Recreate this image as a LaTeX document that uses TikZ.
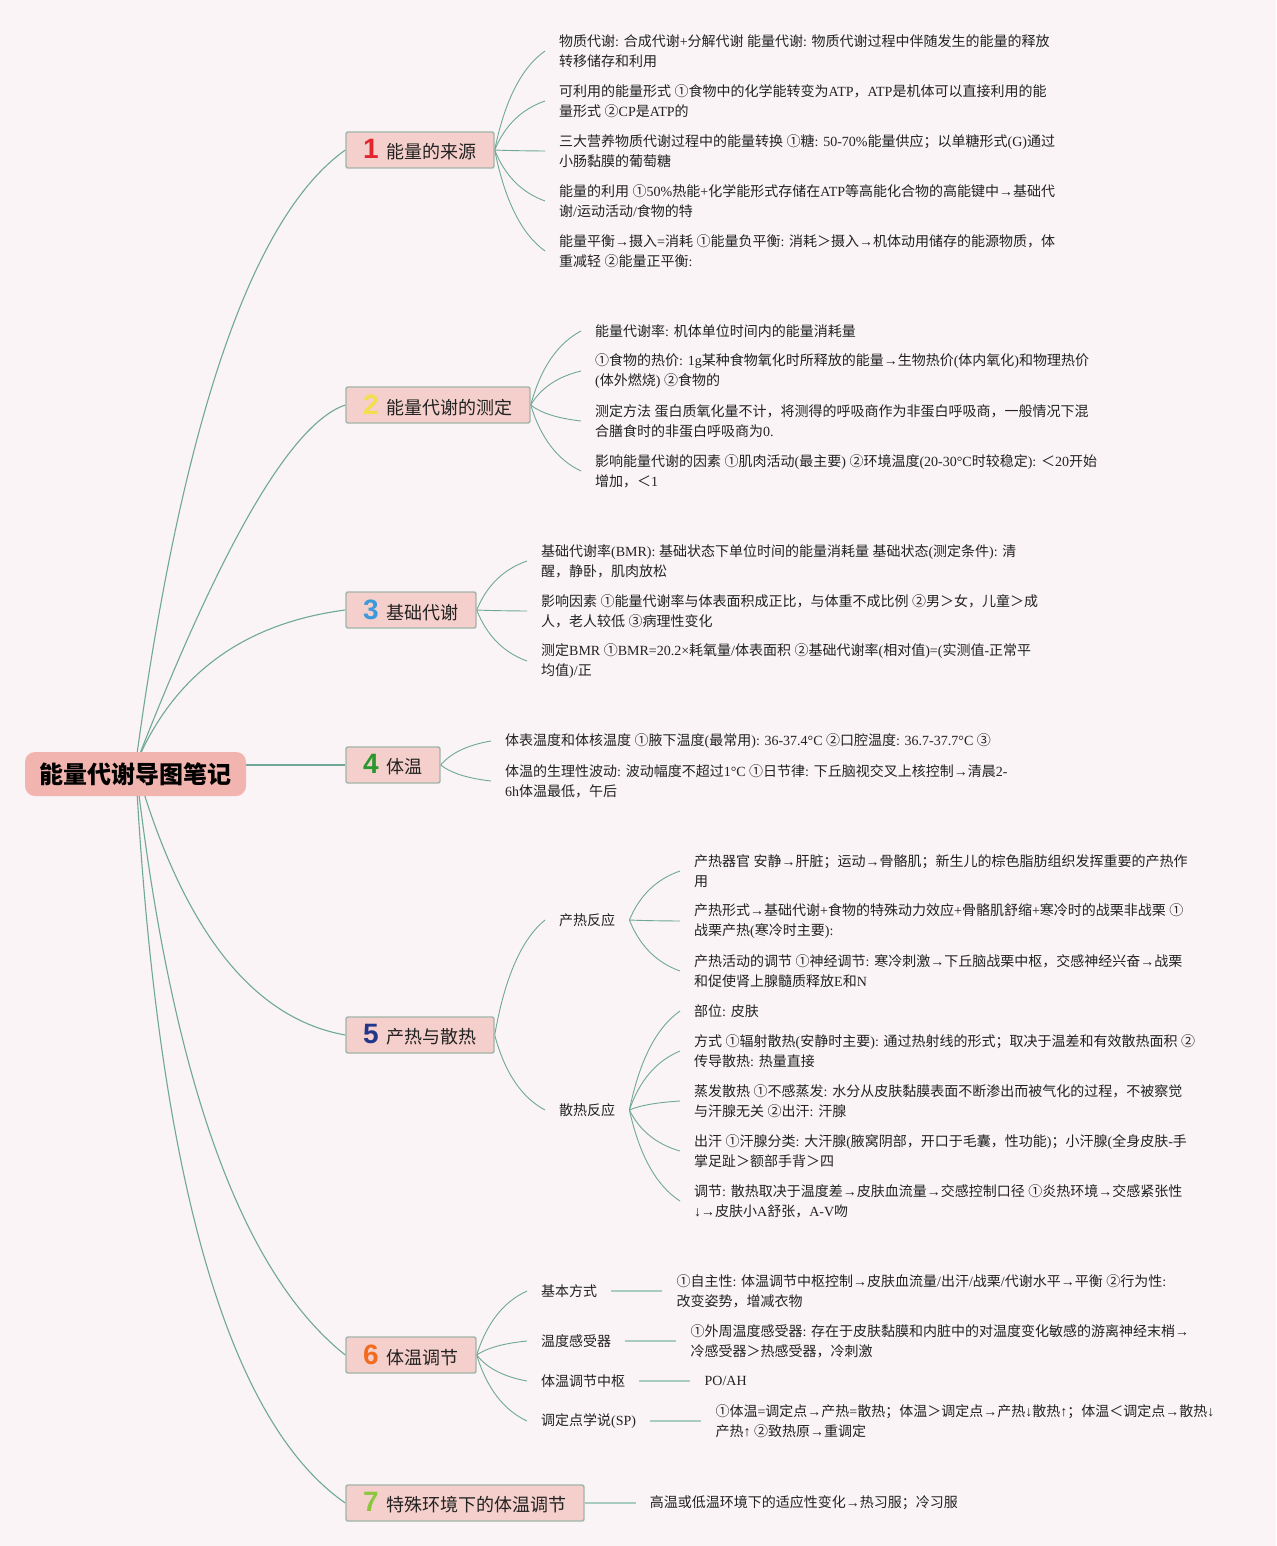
\documentclass[tikz,border=0pt]{standalone}
\usepackage{fontspec}
\setmainfont{Liberation Serif}
\newfontfamily\cjkfont{Noto Sans CJK SC}
\newfontfamily\numfont{Liberation Sans}
\usetikzlibrary{calc}
\pgfdeclarelayer{bgfill}
\pgfdeclarelayer{lines}
\pgfsetlayers{bgfill,lines,main}
\XeTeXinterchartokenstate=1
\newXeTeXintercharclass\mycjkclass
\makeatletter
\newcommand\setcjkrange[2]{%
  \count@=#1\relax
  \loop
    \XeTeXcharclass\count@=\mycjkclass
  \ifnum\count@<#2\relax
    \advance\count@\@ne
  \repeat}
\makeatother
\setcjkrange{"4E00}{"9FFF}
\setcjkrange{"3000}{"303F}
\setcjkrange{"FF00}{"FFEF}
\setcjkrange{"2460}{"2473}
\XeTeXinterchartoks 0 \mycjkclass = {\cjkfont}
\XeTeXinterchartoks 4095 \mycjkclass = {\cjkfont}
\XeTeXinterchartoks \mycjkclass 0 = {\rmfamily}
\XeTeXinterchartoks \mycjkclass 4095 = {\rmfamily}
\definecolor{bgc}{HTML}{FAF4F6}
\definecolor{linec}{HTML}{6FA898}
\definecolor{stubc}{HTML}{A9CCBF}
\definecolor{boxfill}{HTML}{F5CFCB}
\definecolor{boxline}{HTML}{9EB5A9}
\definecolor{rootfill}{HTML}{F2B4AF}
\definecolor{txt}{HTML}{222222}
\definecolor{n1}{HTML}{E3262E}
\definecolor{n2}{HTML}{F2DF4B}
\definecolor{n3}{HTML}{3A9ADB}
\definecolor{n4}{HTML}{2A982F}
\definecolor{n5}{HTML}{22368A}
\definecolor{n6}{HTML}{F26B1D}
\definecolor{n7}{HTML}{8CC63E}
\newcommand\bnum[2]{{\numfont\bfseries\fontsize{28}{28}\selectfont\color{#1}#2}\hspace{8pt}}
\newcommand\rootcurve[2]{\draw[rootline] (rc) .. controls ($(rc)!0.667!(#2)$) and ($(#1.west)!0.667!(#2)$) .. (#1.west);}
\tikzset{
  conn/.style={draw=linec, line width=0.9pt},
  rootline/.style={draw=linec, line width=1.1pt},
  stub/.style={draw=stubc, line width=1.8pt},
  branch/.style={draw=boxline, line width=1.4pt, fill=boxfill, rounded corners=2pt,
    minimum height=36pt, inner xsep=0pt, inner ysep=0pt,
    font=\fontsize{18}{22}\selectfont, text=txt},
  rootbox/.style={fill=rootfill, rounded corners=10pt, minimum width=221pt,
    minimum height=44pt, inner sep=0pt, font=\fontsize{24}{28}\selectfont\bfseries, text=black},
  leaf/.style={anchor=west, inner xsep=14pt, inner ysep=1pt, align=left,
    font=\fontsize{14}{20}\selectfont, text=txt},
  fan/.style={to path={let \p1=(\tikztostart), \p2=(\tikztotarget) in
    .. controls ({\x1+0.2*(\x2-\x1)},{\y1+0.5*(\y2-\y1)})
    and ({\x2-0.4667*(\x2-\x1)},{\y2+0.1667*(\y1-\y2)}) .. (\tikztotarget)}}
}
\begin{document}
\begin{tikzpicture}[x=1pt,y=-1pt]
\useasboundingbox (0,0) rectangle (1276,1546);
\begin{pgfonlayer}{bgfill}
\fill[bgc] (0,0) rectangle (1276,1546);
\end{pgfonlayer}

% root and branches
\node[rootbox] (r) at (135.5,774) {能量代谢导图笔记};
\node[branch, minimum width=148pt] (b1) at (420,150) {\bnum{n1}{1}能量的来源};
\node[branch, minimum width=184pt] (b2) at (438,405) {\bnum{n2}{2}能量代谢的测定};
\node[branch, minimum width=130pt] (b3) at (411,610) {\bnum{n3}{3}基础代谢};
\node[branch, minimum width=94pt] (b4) at (393,765) {\bnum{n4}{4}体温};
\node[branch, minimum width=148pt] (b5) at (420,1035) {\bnum{n5}{5}产热与散热};
\node[branch, minimum width=130pt] (b6) at (411,1355) {\bnum{n6}{6}体温调节};
\node[branch, minimum width=238pt] (b7) at (465,1503) {\bnum{n7}{7}特殊环境下的体温调节};
\coordinate (rc) at ([yshift=9pt]r.center);

% branch 1
\node[leaf] (l11) at (545,51) {物质代谢: 合成代谢+分解代谢 能量代谢: 物质代谢过程中伴随发生的能量的释放\\转移储存和利用};
\node[leaf] (l12) at (545,101) {可利用的能量形式 ①食物中的化学能转变为ATP，ATP是机体可以直接利用的能\\量形式 ②CP是ATP的};
\node[leaf] (l13) at (545,151) {三大营养物质代谢过程中的能量转换 ①糖: 50-70\%能量供应；以单糖形式(G)通过\\小肠黏膜的葡萄糖};
\node[leaf] (l14) at (545,201) {能量的利用 ①50\%热能+化学能形式存储在ATP等高能化合物的高能键中→基础代\\谢/运动活动/食物的特};
\node[leaf] (l15) at (545,251) {能量平衡→摄入=消耗 ①能量负平衡: 消耗＞摄入→机体动用储存的能源物质，体\\重减轻 ②能量正平衡:};

% branch 2
\node[leaf] (l21) at (581,331) {能量代谢率: 机体单位时间内的能量消耗量};
\node[leaf] (l22) at (581,371) {①食物的热价: 1g某种食物氧化时所释放的能量→生物热价(体内氧化)和物理热价\\(体外燃烧) ②食物的};
\node[leaf] (l23) at (581,421) {测定方法 蛋白质氧化量不计，将测得的呼吸商作为非蛋白呼吸商，一般情况下混\\合膳食时的非蛋白呼吸商为0.};
\node[leaf] (l24) at (581,471) {影响能量代谢的因素 ①肌肉活动(最主要) ②环境温度(20-30°C时较稳定): ＜20开始\\增加，＜1};

% branch 3
\node[leaf] (l31) at (527,561) {基础代谢率(BMR): 基础状态下单位时间的能量消耗量 基础状态(测定条件): 清\\醒，静卧，肌肉放松};
\node[leaf] (l32) at (527,611) {影响因素 ①能量代谢率与体表面积成正比，与体重不成比例 ②男＞女，儿童＞成\\人，老人较低 ③病理性变化};
\node[leaf] (l33) at (527,661) {测定BMR ①BMR=20.2×耗氧量/体表面积 ②基础代谢率(相对值)=(实测值-正常平\\均值)/正};

% branch 4
\node[leaf] (l41) at (491,741) {体表温度和体核温度 ①腋下温度(最常用): 36-37.4°C ②口腔温度: 36.7-37.7°C ③};
\node[leaf] (l42) at (491,781) {体温的生理性波动: 波动幅度不超过1°C ①日节律: 下丘脑视交叉上核控制→清晨2-\\6h体温最低，午后};

% branch 5
\node[leaf] (s51) at (545,920) {产热反应};
\node[leaf] (s52) at (545,1110) {散热反应};
\node[leaf] (l511) at (680,871) {产热器官 安静→肝脏；运动→骨骼肌；新生儿的棕色脂肪组织发挥重要的产热作\\用};
\node[leaf] (l512) at (680,921) {产热形式→基础代谢+食物的特殊动力效应+骨骼肌舒缩+寒冷时的战栗非战栗 ①\\战栗产热(寒冷时主要):};
\node[leaf] (l513) at (680,971) {产热活动的调节 ①神经调节: 寒冷刺激→下丘脑战栗中枢，交感神经兴奋→战栗\\和促使肾上腺髓质释放E和N};
\node[leaf] (l521) at (680,1011) {部位: 皮肤};
\node[leaf] (l522) at (680,1051) {方式 ①辐射散热(安静时主要): 通过热射线的形式；取决于温差和有效散热面积 ②\\传导散热: 热量直接};
\node[leaf] (l523) at (680,1101) {蒸发散热 ①不感蒸发: 水分从皮肤黏膜表面不断渗出而被气化的过程，不被察觉\\与汗腺无关 ②出汗: 汗腺};
\node[leaf] (l524) at (680,1151) {出汗 ①汗腺分类: 大汗腺(腋窝阴部，开口于毛囊，性功能)；小汗腺(全身皮肤-手\\掌足趾＞额部手背＞四};
\node[leaf] (l525) at (680,1201) {调节: 散热取决于温度差→皮肤血流量→交感控制口径 ①炎热环境→交感紧张性\\↓→皮肤小A舒张，A-V吻};

% branch 6
\node[leaf] (s61) at (527,1291) {基本方式};
\node[leaf] (s62) at (527,1341) {温度感受器};
\node[leaf] (s63) at (527,1381) {体温调节中枢};
\node[leaf] (s64) at (527,1421) {调定点学说(SP)};
\node[leaf] (l61) at ([xshift=51pt]s61.east) {①自主性: 体温调节中枢控制→皮肤血流量/出汗/战栗/代谢水平→平衡 ②行为性:\\改变姿势，增减衣物};
\node[leaf] (l62) at ([xshift=51pt]s62.east) {①外周温度感受器: 存在于皮肤黏膜和内脏中的对温度变化敏感的游离神经末梢→\\冷感受器＞热感受器，冷刺激};
\node[leaf] (l63) at ([xshift=51pt]s63.east) {PO/AH};
\node[leaf] (l64) at ([xshift=51pt]s64.east) {①体温=调定点→产热=散热；体温＞调定点→产热↓散热↑；体温＜调定点→散热↓\\产热↑ ②致热原→重调定};

% branch 7
\node[leaf] (l71) at ([xshift=51pt]b7.east) {高温或低温环境下的适应性变化→热习服；冷习服};

\begin{pgfonlayer}{lines}
\rootcurve{b1}{205,250}
\rootcurve{b2}{265,432}
\rootcurve{b3}{192,630}
\draw[rootline] (rc) -- (b4.west);
\rootcurve{b5}{205,1010}
\rootcurve{b6}{188,1230}
\rootcurve{b7}{168,1380}
\foreach \t in {l11,l12,l13,l14,l15} \draw[conn] (b1.east) to[fan] (\t.west);
\foreach \t in {l21,l22,l23,l24} \draw[conn] (b2.east) to[fan] (\t.west);
\foreach \t in {l31,l32,l33} \draw[conn] (b3.east) to[fan] (\t.west);
\foreach \t in {l41,l42} \draw[conn] (b4.east) to[fan] (\t.west);
\foreach \t in {s51,s52} \draw[conn] (b5.east) to[fan] (\t.west);
\foreach \t in {l511,l512,l513} \draw[conn] (s51.east) to[fan] (\t.west);
\foreach \t in {l521,l522,l523,l524,l525} \draw[conn] (s52.east) to[fan] (\t.west);
\foreach \t in {s61,s62,s63,s64} \draw[conn] (b6.east) to[fan] (\t.west);
\draw[stub] (s61.east) -- (l61.west);
\draw[stub] (s62.east) -- (l62.west);
\draw[stub] (s63.east) -- (l63.west);
\draw[stub] (s64.east) -- (l64.west);
\draw[stub] (b7.east) -- (l71.west);
\end{pgfonlayer}
\end{tikzpicture}
\end{document}
